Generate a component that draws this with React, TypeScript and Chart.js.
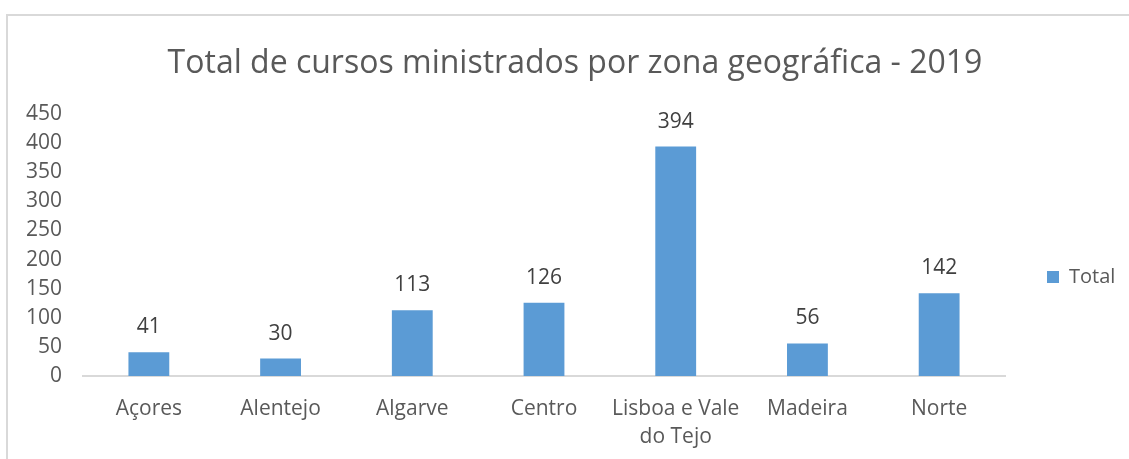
import React, { useEffect, useRef } from "react";
import { Chart, registerables } from "chart.js";

Chart.register(...registerables);

const categories: (string | string[])[] = [
  "Açores",
  "Alentejo",
  "Algarve",
  "Centro",
  ["Lisboa e Vale", "do Tejo"],
  "Madeira",
  "Norte",
];
const totalValues: number[] = [41, 30, 113, 126, 394, 56, 142];
const seriesLabel = "Total";
const chartTitle = "Total de cursos ministrados por zona geográfica - 2019";
const yMin = 0;
const yMax = 450;
const yStep = 50;

const FONT = "'Open Sans', 'Noto Sans', sans-serif";
const BAR_COLOR = "#5B9BD5";
const TEXT_COLOR = "#595959";

const framePlugin = {
  id: "frame",
  beforeDraw(chart: any) {
    const ctx = chart.ctx;
    ctx.save();
    ctx.fillStyle = "#ffffff";
    ctx.fillRect(0, 0, chart.width, chart.height);
    ctx.strokeStyle = "#d9d9d9";
    ctx.lineWidth = 2;
    ctx.beginPath();
    ctx.moveTo(7, chart.height);
    ctx.lineTo(7, 15);
    ctx.lineTo(chart.width, 15);
    ctx.stroke();
    ctx.restore();
  },
};

const dataLabelPlugin = {
  id: "dataLabels",
  afterDatasetsDraw(chart: any) {
    const ctx = chart.ctx;
    ctx.save();
    ctx.font = `21px ${FONT}`;
    ctx.fillStyle = "#404040";
    ctx.textAlign = "center";
    ctx.textBaseline = "middle";
    chart.data.datasets.forEach((ds: any, di: number) => {
      const meta = chart.getDatasetMeta(di);
      meta.data.forEach((bar: any, i: number) => {
        ctx.fillText(String(ds.data[i]), bar.x, bar.y - 25);
      });
    });
    ctx.restore();
  },
};

const layoutTweakPlugin = {
  id: "layoutTweak",
  beforeLayout(chart: any) {
    const lg = chart.legend;
    if (lg && !lg.__patched) {
      lg.__patched = true;
      const orig = lg.fit;
      lg.fit = function (this: any) {
        orig.call(this);
        this.width = 124;
      };
    }
  },
  afterLayout(chart: any) {
    const tb = chart.titleBlock;
    if (tb) {
      tb.left += 10.5;
      tb.right += 10.5;
    }
    const lg = chart.legend;
    if (lg) {
      lg.top += 52;
      lg.bottom += 52;
    }
  },
};

export default function App() {
  const ref = useRef<HTMLCanvasElement | null>(null);
  useEffect(() => {
    document.body.style.margin = "0";
    if (!ref.current) return;
    const chart = new Chart(ref.current, {
      type: "bar",
      data: {
        labels: categories,
        datasets: [
          {
            label: seriesLabel,
            data: totalValues,
            backgroundColor: BAR_COLOR,
            borderWidth: 0,
            barPercentage: 0.31,
            categoryPercentage: 1,
          },
        ],
      },
      options: {
        responsive: false,
        animation: false,
        layout: { padding: { left: 0, right: 0, top: 0, bottom: 9 } },
        plugins: {
          title: {
            display: true,
            text: chartTitle,
            color: TEXT_COLOR,
            font: { family: FONT, size: 32, weight: "normal", lineHeight: 1.2 },
            padding: { top: 45, bottom: 30.6 },
          },
          legend: {
            display: true,
            position: "right",
            labels: {
              color: TEXT_COLOR,
              font: { family: FONT, size: 20 },
              boxWidth: 12,
              boxHeight: 12,
              padding: 42,
            },
          },
          tooltip: { enabled: false },
        },
        scales: {
          x: {
            grid: { display: false, drawTicks: false },
            border: { display: true, color: "#d9d9d9", width: 2 },
            ticks: {
              color: TEXT_COLOR,
              font: { family: FONT, size: 21, lineHeight: 1.33 },
              padding: 19,
              maxRotation: 0,
              autoSkip: false,
            },
            afterFit(scale: any) {
              scale.height = 74;
            },
          },
          y: {
            min: yMin,
            max: yMax,
            grid: { display: false, drawTicks: false },
            border: { display: false },
            ticks: {
              stepSize: yStep,
              autoSkip: false,
              color: TEXT_COLOR,
              font: { family: FONT, size: 21 },
              padding: 21,
            },
            afterFit(scale: any) {
              scale.width = 83;
            },
          },
        },
      },
      plugins: [framePlugin, dataLabelPlugin, layoutTweakPlugin],
    });
    return () => chart.destroy();
  }, []);
  return (
    <div style={{ position: "absolute", left: 0, top: 0, width: 1129, height: 459 }}>
      <canvas ref={ref} width={1129} height={459} style={{ display: "block" }} />
    </div>
  );
}
